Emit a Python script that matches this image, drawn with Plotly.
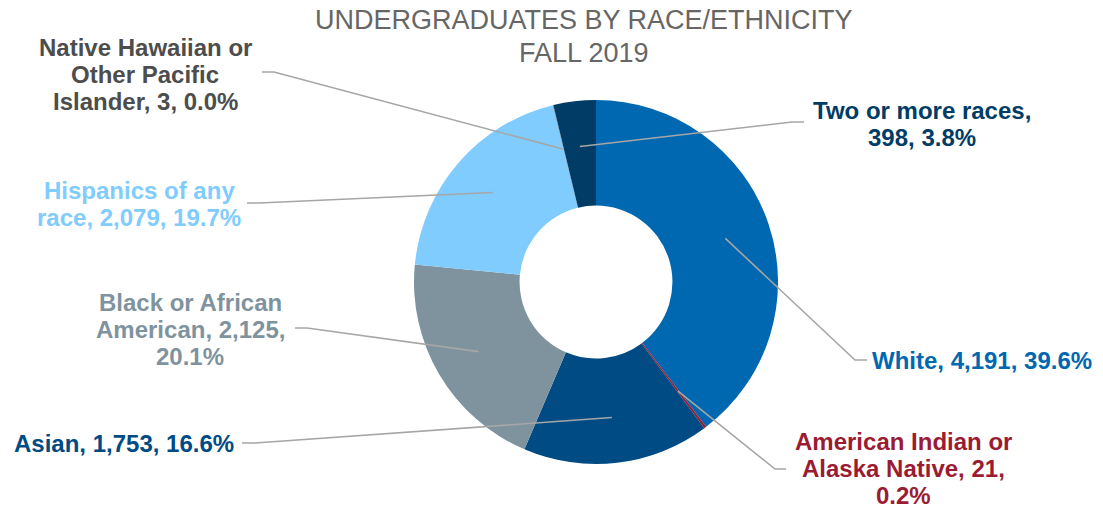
import math
import plotly.graph_objects as go

# ---- data ----
categories = ["White", "American Indian or Alaska Native", "Asian",
              "Black or African American", "Hispanics of any race",
              "Native Hawaiian or Other Pacific Islander", "Two or more races"]
values = [4191, 21, 1753, 2125, 2079, 3, 398]
slice_colors = ["#0067B1", "#9B1B32", "#004B84", "#7F939E", "#80CCFF", "#595959", "#003C66"]
label_colors = ["#0067B1", "#9B1B32", "#004B84", "#7F939E", "#80CCFF", "#4D4D4D", "#003C66"]
words_per_line = [[3], [3, 3, 1], [3], [3, 2, 1], [3, 3], [3, 2, 3], [4, 2]]
title_lines = ["UNDERGRADUATES BY RACE/ETHNICITY", "FALL 2019"]

# ---- layout constants (pixels) ----
W, H = 1103, 510
CX, CY, R = 596, 282, 182
HOLE = 0.42
LEADER_R = 0.75 * R
label_centers = [(982, 360), (903, 441), (124, 443), (190, 302), (139, 190), (145, 47), (922, 110)]
elbows = [(855, 360), (775, 469), (255, 443), (307, 328), (259, 203), (274, 72), (792, 122)]
stub_ends = [(867, 360), (786, 469), (242, 443), (295, 328), (247, 203), (262, 72), (804, 122)]
LINE_GAP = 27.3
FONT = "Liberation Sans, Arial, sans-serif"
FS = 24


def px(x):
    return x / W


def py(y):
    return 1 - y / H


total = sum(values)

fig = go.Figure(go.Pie(
    labels=categories, values=values, sort=False, direction="clockwise",
    rotation=0, hole=HOLE, textinfo="none", showlegend=False,
    marker=dict(colors=slice_colors, line=dict(width=0)),
    domain=dict(x=[px(CX - R), px(CX + R)], y=[py(CY + R), py(CY - R)]),
))

annotations = []
shapes = []
cum = 0
for i, (name, v) in enumerate(zip(categories, values)):
    mid = (cum + v / 2) / total
    cum += v
    ang = 2 * math.pi * mid
    ix = CX + LEADER_R * math.sin(ang)
    iy = CY - LEADER_R * math.cos(ang)
    ex, ey = elbows[i]
    sx, sy = stub_ends[i]
    shapes.append(dict(
        type="path", xref="paper", yref="paper",
        path=f"M {px(ix)},{py(iy)} L {px(ex)},{py(ey)} L {px(sx)},{py(sy)}",
        line=dict(color="#A6A6A6", width=1.6),
    ))
    text = f"{name}, {v:,}, {v / total:.1%}"
    words = text.split(" ")
    lines = []
    k = 0
    for n in words_per_line[i]:
        lines.append(" ".join(words[k:k + n]))
        k += n
    lx, ly = label_centers[i]
    for j, ln in enumerate(lines):
        annotations.append(dict(
            x=px(lx), y=py(ly + j * LINE_GAP), xref="paper", yref="paper",
            text=f"<b>{ln}</b>", showarrow=False, xanchor="center", yanchor="middle",
            font=dict(family=FONT, size=FS, color=label_colors[i]),
        ))

for j, t in enumerate(title_lines):
    annotations.append(dict(
        x=px(584), y=py(20.5 + j * 33), xref="paper", yref="paper", text=t,
        showarrow=False, xanchor="center", yanchor="middle",
        font=dict(family=FONT, size=27, color="#666666"),
    ))

fig.update_layout(
    width=W, height=H, margin=dict(l=0, r=0, t=0, b=0),
    paper_bgcolor="white", plot_bgcolor="white",
    annotations=annotations, shapes=shapes,
)
fig.write_html("out.html", config={"displayModeBar": False},
               post_script="document.body.style.margin='0';")
